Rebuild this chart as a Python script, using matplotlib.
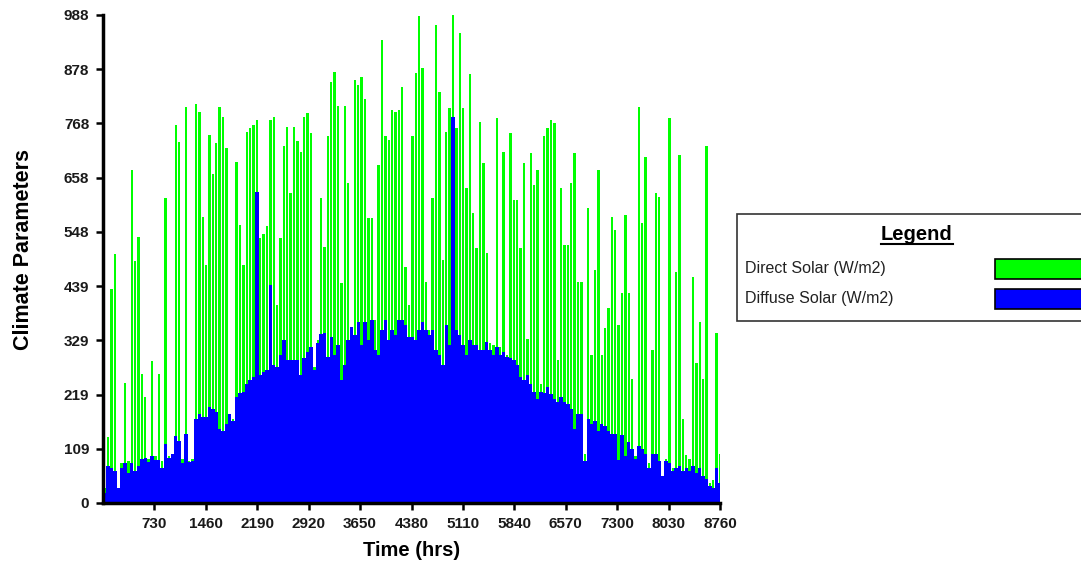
import numpy as np
import matplotlib
matplotlib.use("Agg")
import matplotlib.pyplot as plt
from matplotlib.patches import Rectangle

# Peak values read per 48-hour slot (slot 0 starts at hour 0)
slot_hours = 48
direct_solar = [
    30, 134, 433, 504, 30, 80, 242, 85, 674, 490,
    538, 262, 214, 90, 287, 95, 262, 85, 618, 95,
    100, 765, 730, 90, 802, 85, 90, 807, 792, 580,
    482, 745, 667, 728, 802, 782, 718, 180, 170, 691,
    563, 482, 752, 759, 765, 775, 536, 545, 560, 775,
    782, 400, 536, 722, 762, 627, 762, 732, 711, 782,
    789, 749, 275, 330, 617, 519, 742, 853, 873, 804,
    445, 804, 647, 357, 857, 846, 863, 817, 576, 576,
    371, 685, 937, 743, 735, 796, 792, 796, 842, 478,
    400, 742, 870, 985, 880, 448, 350, 617, 968, 833,
    492, 752, 799, 988, 759, 951, 799, 637, 869, 587,
    516, 772, 688, 506, 323, 320, 779, 315, 711, 300,
    750, 613, 613, 516, 688, 333, 709, 644, 674, 240,
    742, 759, 775, 770, 289, 637, 522, 522, 647, 708,
    448, 448, 100, 597, 300, 472, 674, 300, 354, 394,
    580, 553, 360, 426, 583, 426, 252, 95, 802, 566,
    701, 80, 310, 628, 620, 55, 90, 779, 70, 468,
    705, 171, 97, 90, 458, 283, 367, 252, 723, 40,
    47, 344, 100,
]
diffuse_solar = [
    20, 74, 70, 65, 30, 70, 80, 60, 80, 65,
    75, 90, 92, 82, 95, 88, 88, 70, 120, 92,
    100, 135, 125, 80, 140, 82, 86, 170, 180, 175,
    175, 195, 190, 185, 150, 145, 160, 180, 165, 215,
    222, 225, 240, 248, 255, 630, 259, 265, 270, 441,
    280, 275, 300, 330, 290, 290, 290, 290, 260, 293,
    305, 316, 270, 323, 343, 345, 296, 337, 300, 320,
    250, 280, 330, 357, 340, 367, 320, 367, 330, 371,
    310, 300, 350, 371, 330, 350, 340, 371, 371, 360,
    337, 337, 330, 350, 367, 350, 340, 350, 310, 300,
    280, 360, 320, 782, 350, 340, 320, 300, 330, 320,
    320, 310, 310, 325, 310, 300, 315, 300, 305, 295,
    293, 290, 280, 256, 250, 260, 240, 225, 210, 225,
    222, 235, 220, 210, 205, 215, 205, 200, 190, 150,
    180, 180, 85, 170, 160, 165, 145, 160, 155, 145,
    140, 140, 87, 138, 95, 124, 110, 90, 115, 110,
    100, 70, 100, 100, 85, 55, 85, 80, 65, 70,
    75, 65, 70, 65, 75, 60, 70, 55, 48, 35,
    30, 70, 40,
]
x_tick_values = [730, 1460, 2190, 2920, 3650, 4380, 5110, 5840, 6570, 7300, 8030, 8760]
y_max = 988
y_tick_values = [y_max * i / 9 for i in range(10)]
y_tick_labels = [str(int(v)) for v in y_tick_values]
legend_title = "Legend"
series_names = ["Direct Solar (W/m2)", "Diffuse Solar (W/m2)"]
series_colors = ["#00FF00", "#0000FF"]

plt.rcParams['font.family'] = ['Liberation Sans', 'DejaVu Sans']

fig = plt.figure(figsize=(10.81, 5.63), dpi=100)
ax = fig.add_axes([0.0953, 0.1066, 0.5708, 0.8668])

hours = np.arange(len(direct_solar)) * slot_hours + slot_hours / 2
ax.bar(hours, direct_solar, width=slot_hours * 0.7, color=series_colors[0], linewidth=0, zorder=2)
ax.bar(hours, diffuse_solar, width=slot_hours, color=series_colors[1], linewidth=0, zorder=3)

ax.set_xlim(0, 8760)
ax.set_ylim(0, y_max)
ax.set_xticks(x_tick_values)
ax.set_xticklabels([str(v) for v in x_tick_values])
ax.set_yticks(y_tick_values)
ax.set_yticklabels(y_tick_labels)

for s in ['top', 'right']:
    ax.spines[s].set_visible(False)
for s in ['left', 'bottom']:
    ax.spines[s].set_linewidth(2.5)
    ax.spines[s].set_color('black')
    ax.spines[s].set_zorder(5)

ax.tick_params(axis='both', direction='out', length=5, width=1.8, color='black',
               labelsize=11, pad=5)
for lbl in ax.get_xticklabels() + ax.get_yticklabels():
    lbl.set_fontweight('bold')
    lbl.set_color('#1a1a1a')

ax.set_xlabel("Time (hrs)", fontsize=14.5, fontweight='bold', labelpad=7)
ax.set_ylabel("Climate Parameters", fontsize=15.5, fontweight='bold')
ax.yaxis.set_label_coords(-0.112, 0.52)

# Legend box drawn in figure coordinates
W, H = 1081.0, 563.0
def fx(px):
    return px / W
def fy(py):
    return 1 - py / H

box = Rectangle((fx(737), fy(321)), fx(1081) - fx(737) + 0.01, fy(214) - fy(321),
                transform=fig.transFigure, facecolor='white', edgecolor='#333333',
                linewidth=1.2, clip_on=False)
fig.patches.append(box)
t = fig.text(fx(917), fy(234), legend_title, ha='center', va='center',
             fontsize=14.5, fontweight='bold')
# underline the title
fig.canvas.draw()
bb = t.get_window_extent()
x0, x1 = bb.x0 / (W), bb.x1 / (W)
yline = (bb.y0 - 0.5) / H
fig.add_artist(plt.Line2D([x0, x1], [yline, yline], transform=fig.transFigure,
                          color='black', linewidth=1.5))

entry_y = [269, 299]
for name, color, yy in zip(series_names, series_colors, entry_y):
    fig.text(fx(745), fy(yy), name, ha='left', va='center', fontsize=11.5, color='#222222')
    sw = Rectangle((fx(995), fy(yy + 10)), fx(1081) - fx(995) + 0.01, fy(yy - 10) - fy(yy + 10),
                   transform=fig.transFigure, facecolor=color, edgecolor='black',
                   linewidth=1.2, clip_on=False)
    fig.patches.append(sw)

fig.savefig("out.png", dpi=100)
